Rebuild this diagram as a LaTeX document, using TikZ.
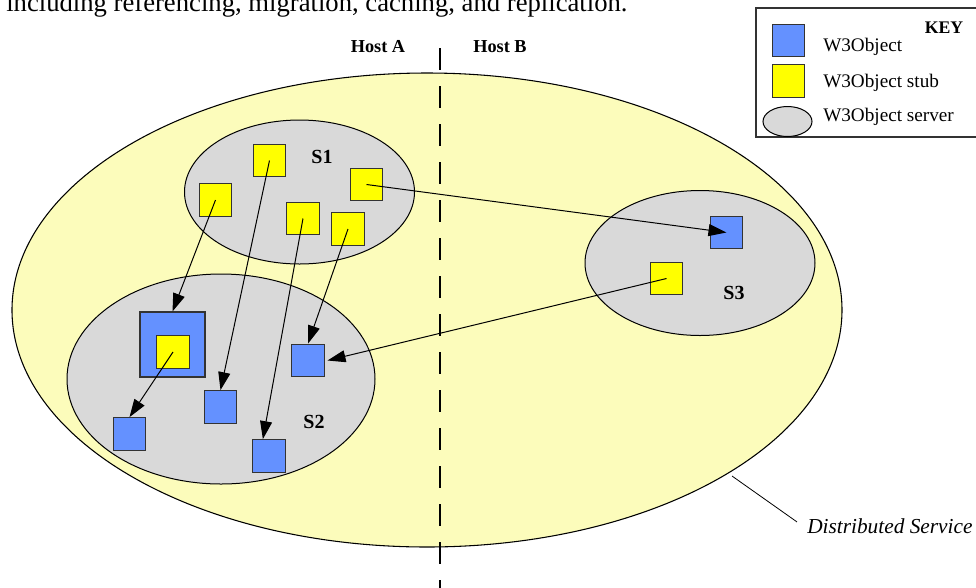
\documentclass[tikz,border=0pt]{standalone}
\usepackage{fontspec}
\setmainfont{Liberation Serif}
\usetikzlibrary{arrows.meta}

\begin{document}
\begin{tikzpicture}[x=0.75pt,y=0.75pt,yscale=-1,xscale=1,
  objbox/.style={draw={rgb, 255:red, 51; green, 51; blue, 51}, line width=0.8pt, fill={rgb, 255:red, 100; green, 145; blue, 255}, minimum size=24.5pt, inner sep=0pt},
  stubbox/.style={objbox, fill={rgb, 255:red, 255; green, 255; blue, 0}},
  server/.style={draw=black, line width=0.75pt, fill={rgb, 255:red, 217; green, 217; blue, 217}},
  ref/.style={line width=0.75pt, -{Triangle[length=13.5pt,width=9pt]}},
  lbl/.style={inner sep=0pt, anchor=base}
]
\useasboundingbox (0,0) rectangle (976,587);

% Text Node (caption line, cut at the top)
\node[lbl, anchor=base west, font=\fontsize{20}{24}\selectfont] (caption) at (6,11) {including referencing, migration, caching, and replication.};

%Shape: Ellipse (distributed service)
\draw[line width=0.8pt, fill={rgb, 255:red, 252; green, 252; blue, 187}] (427,310) ellipse (415 and 237);

%Dashed Lines (host boundary)
\draw[line width=2.2pt, dash pattern=on 16.5pt off 12pt] (440,48) -- (440,590);

% Text Nodes (hosts)
\node[lbl, font=\bfseries\fontsize{13.7}{16}\selectfont] (hostA) at (378,52) {Host A};
\node[lbl, font=\bfseries\fontsize{13.7}{16}\selectfont] (hostB) at (500,52) {Host B};

%Shape: Ellipse (servers)
\draw[server] (299.5,192) ellipse (115 and 72);
\draw[server] (221,379) ellipse (154 and 105);
\draw[server] (700,263) ellipse (115 and 72.5);

\node[lbl, font=\bfseries\fontsize{15}{18}\selectfont] (labS1) at (322,163) {S1};
\node[lbl, font=\bfseries\fontsize{15}{18}\selectfont] (labS2) at (314,428) {S2};
\node[lbl, font=\bfseries\fontsize{15}{18}\selectfont] (labS3) at (734,299) {S3};

%Shape: Square (stubs in S1)
\node[stubbox] (stubA) at (215.5,200) {};
\node[stubbox] (stubB) at (269.5,160.5) {};
\node[stubbox] (stubC) at (303,218.5) {};
\node[stubbox] (stubD) at (348,229) {};
\node[stubbox] (stubE) at (366.5,184.5) {};

%Shape: Square (objects in S2)
\node[objbox, minimum size=48.75pt] (objBig) at (172.5,344.5) {};
\node[stubbox] (stubIn) at (173,352) {};
\node[objbox] (objA) at (129.5,434) {};
\node[objbox] (objB) at (220.5,407) {};
\node[objbox] (objC) at (269,456) {};
\node[objbox] (objD) at (308,360.5) {};

%Shape: Square (S3)
\node[objbox] (objS3) at (726.5,232.5) {};
\node[stubbox] (stubS3) at (666.5,278.5) {};

%Straight Lines (references)
\draw[ref] (stubA.center) -- (objBig.north);
\draw[ref] (stubB.center) -- (objB.north);
\draw[ref] (stubC.center) -- (objC.110);
\draw[ref] (stubD.center) -- (objD.north);
\draw[ref] (stubIn.center) -- (objA.north);
\draw[ref] (stubE.center) -- (objS3.center);
\draw[ref] (stubS3.center) -- ([xshift=2pt]objD.east);

% Key
\draw[line width=1pt, draw={rgb, 255:red, 51; green, 51; blue, 51}] (756,8) rectangle (985,137);
\node[lbl, font=\bfseries\fontsize{13.3}{16}\selectfont] (keyTitle) at (944,33) {KEY};
\node[objbox] (keyObj) at (788.5,40.5) {};
\node[stubbox] (keyStub) at (788.5,81) {};
\draw[server] (787.5,121.5) ellipse (24.5 and 15);
\node[lbl, anchor=base west, font=\fontsize{14.4}{17}\selectfont] (keyObjTxt) at (823,51) {W3Object};
\node[lbl, anchor=base west, font=\fontsize{14.4}{17}\selectfont] (keyStubTxt) at (823,87) {W3Object stub};
\node[lbl, anchor=base west, font=\fontsize{14.4}{17}\selectfont] (keySrvTxt) at (823,121) {W3Object server};

% Distributed service label
\node[lbl, anchor=base west, font=\itshape\fontsize{16}{19}\selectfont] (dsLabel) at (807,533) {Distributed Service};
\coordinate (dsEdge) at (732,476);
\draw[line width=0.6pt] (dsEdge) -- ([shift={(-10,4)}]dsLabel.north west);

\end{tikzpicture}
\end{document}
